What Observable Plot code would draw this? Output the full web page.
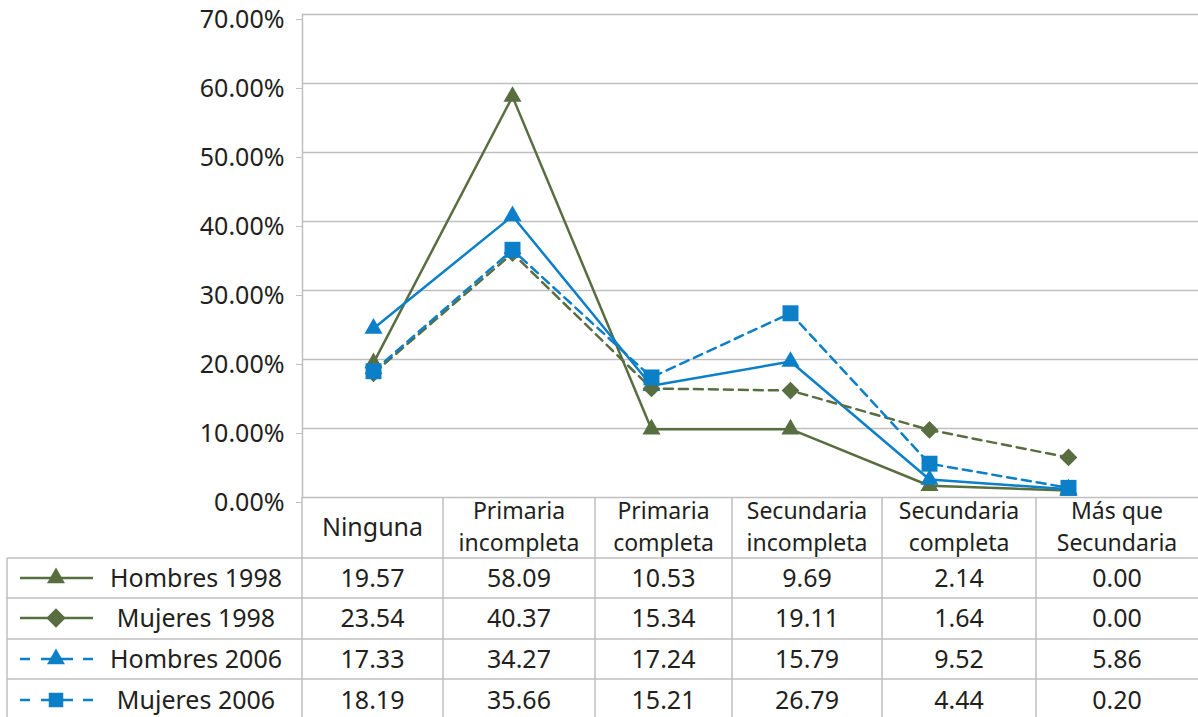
<!DOCTYPE html>
<html><head><meta charset="utf-8">
<script src="https://cdn.jsdelivr.net/npm/d3@7"></script>
<script src="https://cdn.jsdelivr.net/npm/@observablehq/plot@0.6"></script>
<style>
html,body{margin:0;padding:0;background:#fff;}
#chart{width:1198px;height:717px;overflow:hidden;}
</style></head><body><div id="chart"></div>
<script>
// ---- data ----
const categories = ["Ninguna","Primaria incompleta","Primaria completa","Secundaria incompleta","Secundaria completa","Más que Secundaria"];
const headerLines = [["Ninguna"],["Primaria","incompleta"],["Primaria","completa"],["Secundaria","incompleta"],["Secundaria","completa"],["Más que","Secundaria"]];
const seriesNames = ["Hombres 1998","Mujeres 1998","Hombres 2006","Mujeres 2006"];
// values printed in the data table
const tableHombres1998 = ["19.57","58.09","10.53","9.69","2.14","0.00"];
const tableMujeres1998 = ["23.54","40.37","15.34","19.11","1.64","0.00"];
const tableHombres2006 = ["17.33","34.27","17.24","15.79","9.52","5.86"];
const tableMujeres2006 = ["18.19","35.66","15.21","26.79","4.44","0.20"];
// values as plotted by the lines
const lineHombres1998 = [19.5, 58.1, 9.9, 9.9, 1.7, 1.0];
const lineMujeres1998 = [24.5, 40.8, 16.2, 19.7, 2.6, 1.2];
const lineHombres2006 = [18.0, 35.4, 15.8, 15.5, 9.8, 5.8];
const lineMujeres2006 = [18.3, 35.9, 17.4, 26.7, 4.9, 1.4];
const yTicks = [0,10,20,30,40,50,60,70];

// ---- styles ----
const GREEN = "#586e41", BLUE = "#0b7fc7", GRID = "#bfbfbf", INK = "#231f20";
const FONT = "'Noto Sans', sans-serif";
const lineStyles = [
  {values: lineHombres1998, stroke: GREEN, dash: null, symbol: "triangle", r: 6.7},
  {values: lineMujeres1998, stroke: BLUE, dash: null, symbol: "triangle", r: 6.7},
  {values: lineHombres2006, stroke: GREEN, dash: "9,6", symbol: "diamond2", r: 8},
  {values: lineMujeres2006, stroke: BLUE, dash: "9,6", symbol: "square", r: 9}
];
const legendStyles = [
  {stroke: GREEN, dash: null, symbol: d3.symbolTriangle, size: 140},
  {stroke: GREEN, dash: null, symbol: d3.symbolDiamond2, size: 240},
  {stroke: BLUE, dash: "10,11,32,10,10", symbol: d3.symbolTriangle, size: 140},
  {stroke: BLUE, dash: "10,11,32,10,10", symbol: d3.symbolSquare, size: 210}
];
const tableRows = [tableHombres1998, tableMujeres1998, tableHombres2006, tableMujeres2006];

const marks = [
  Plot.ruleY(yTicks, {stroke: GRID, strokeWidth: 1.5}),
  Plot.frame({anchor: "left", stroke: GRID, strokeWidth: 1.5}),
  Plot.axisY({ticks: yTicks, tickSize: 6, tickPadding: 12, tickFormat: d => d.toFixed(2) + "%",
              stroke: GRID, fill: INK, fontSize: 25, dy: 5, label: null})
];
for (const s of lineStyles) {
  const rows = categories.map((c, i) => ({cat: c, v: s.values[i]}));
  marks.push(Plot.line(rows, {x: "cat", y: "v", stroke: s.stroke, strokeWidth: 2.5,
    strokeDasharray: s.dash || undefined}));
  marks.push(Plot.dot(rows, {x: "cat", y: "v", symbol: s.symbol, r: s.r, fill: s.stroke, stroke: "none"}));
}

const plot = Plot.plot({
  width: 1198, height: 717,
  marginLeft: 302, marginRight: 0, marginTop: 14, marginBottom: 220,
  style: {fontFamily: FONT, fontSize: "25px", color: INK, background: "white"},
  x: {type: "point", domain: categories, range: [371, 1070], padding: 0, axis: null},
  y: {domain: [0, 70], range: [497, 14], axis: null},
  marks
});

// ---- data table drawn under the plot ----
const svg = d3.select(plot);
const g = svg.append("g").attr("font-family", FONT).attr("font-size", 25).attr("fill", INK);
const colEdges = [302, 443, 595, 732, 882, 1036, 1198];
const rowEdges = [558, 598, 639, 679, 720];
const rowCenters = [578, 618, 659, 700];
const lineAttr = sel => sel.attr("stroke", GRID).attr("stroke-width", 1.5).attr("fill", "none");

rowEdges.slice(0, 4).forEach(y => lineAttr(g.append("line").attr("x1", 7).attr("x2", 1198).attr("y1", y).attr("y2", y)));
g.append("line").attr("x1", 7).attr("x2", 7).attr("y1", 558).attr("y2", 720).call(lineAttr);
colEdges.slice(0, 6).forEach(x => lineAttr(g.append("line").attr("x1", x).attr("x2", x).attr("y1", 497).attr("y2", 720)));

// header
headerLines.forEach((lines, i) => {
  const cx = (colEdges[i] + colEdges[i + 1]) / 2;
  if (lines.length === 1) {
    g.append("text").attr("text-anchor", "middle").attr("x", cx).attr("y", 527).attr("dy", "0.35em").text(lines[0]);
  } else {
    g.append("text").attr("text-anchor", "middle").attr("font-size", 23)
      .attr("x", cx).attr("y", 511).attr("dy", "0.35em").text(lines[0]);
    g.append("text").attr("text-anchor", "middle").attr("font-size", 23)
      .attr("x", cx).attr("y", 543).attr("dy", "0.35em").text(lines[1]);
  }
});

// rows
seriesNames.forEach((name, r) => {
  const cy = rowCenters[r];
  const st = legendStyles[r];
  g.append("line").attr("x1", 20).attr("x2", 93).attr("y1", cy).attr("y2", cy)
    .attr("stroke", st.stroke).attr("stroke-width", 2.5)
    .attr("stroke-dasharray", st.dash);
  g.append("path").attr("d", d3.symbol(st.symbol, st.size)()).attr("transform", `translate(56,${cy})`)
    .attr("fill", st.stroke);
  g.append("text").attr("x", 196).attr("y", cy).attr("dy", "0.35em").attr("text-anchor", "middle").text(name);
  tableRows[r].forEach((v, i) => {
    const cx = (colEdges[i] + colEdges[i + 1]) / 2;
    g.append("text").attr("x", cx).attr("y", cy).attr("dy", "0.35em").attr("text-anchor", "middle").text(v);
  });
});

document.getElementById("chart").appendChild(plot);
</script>
</body></html>
